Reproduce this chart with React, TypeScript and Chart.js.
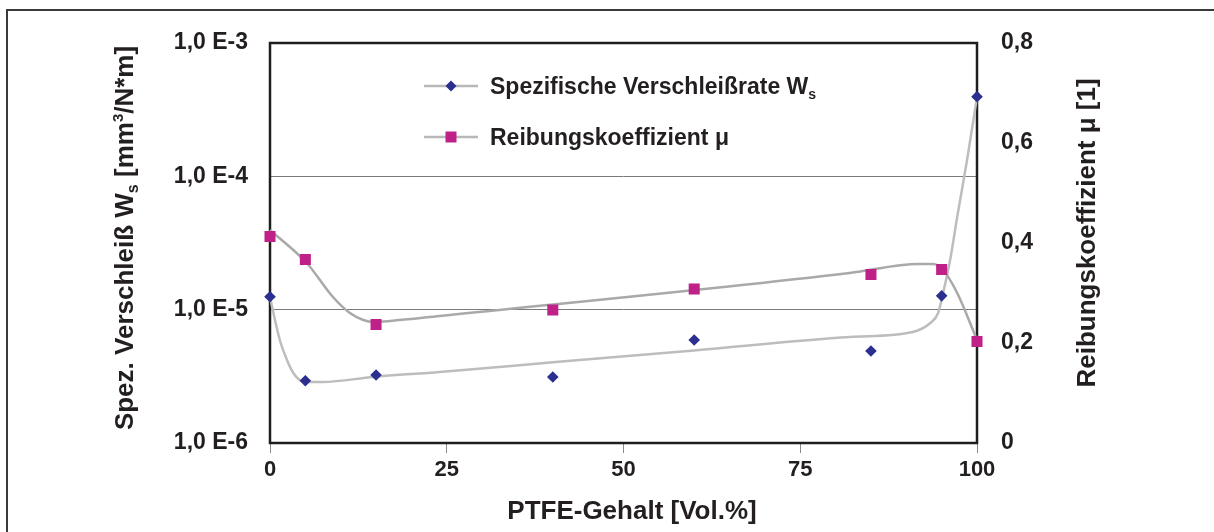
import React, { useEffect, useRef } from "react";
import { Chart, registerables } from "chart.js";

Chart.register(...registerables);

// ---- data ----
const ptfeContent = [0, 5, 15, 40, 60, 85, 95, 100];
const wearRate = [1.25e-5, 2.93e-6, 3.24e-6, 3.13e-6, 5.92e-6, 4.9e-6, 1.27e-5, 3.96e-4];
const frictionCoeff = [0.413, 0.367, 0.237, 0.266, 0.308, 0.337, 0.347, 0.203];

const wearTrendX = [0, 0.4, 1.4, 2.4, 3.3, 4.2, 5.2, 7.5, 14.6, 24, 40, 60, 82, 90.9, 93.4, 94.5, 95.2, 96.2, 97.2, 98.6, 100];
const wearTrendY = [1.25e-5, 9.9e-6, 5.9e-6, 4.2e-6, 3.35e-6, 2.97e-6, 2.87e-6, 2.87e-6, 3.13e-6, 3.41e-6, 4.03e-6, 4.95e-6, 6.24e-6, 6.8e-6, 7.94e-6, 9.44e-6, 1.33e-5, 2.36e-5, 4.95e-5, 1.33e-4, 3.94e-4];

const frictionTrendX = [0, 5.2, 8.9, 11.3, 13.2, 14.6, 17, 24, 82, 91.7, 93.8, 95.2, 97.2, 100];
const frictionTrendY = [0.426, 0.36, 0.292, 0.26, 0.246, 0.242, 0.244, 0.254, 0.34, 0.358, 0.358, 0.346, 0.3, 0.206];

const xTicks = [0, 25, 50, 75, 100];
const leftTickValues = [1e-6, 1e-5, 1e-4, 1e-3];
const leftTickLabels = ["1,0 E-6", "1,0 E-5", "1,0 E-4", "1,0 E-3"];
const rightTickValues = [0, 0.2, 0.4, 0.6, 0.8];
const rightTickLabels = ["0", "0,2", "0,4", "0,6", "0,8"];

const seriesWearLabel = "Spezifische Verschleißrate W";
const seriesFrictionLabel = "Reibungskoeffizient μ";
const xTitle = "PTFE-Gehalt [Vol.%]";
const rightTitle = "Reibungskoeffizient μ [1]";

// ---- styles ----
const FONT = "'Liberation Sans', Arial, Helvetica, sans-serif";
const TEXT = "#231f20";
const BLUE = "#2b2f8f";
const MAGENTA = "#bf2189";

type Part = { t: string; size: number; dy?: number };

function drawRich(ctx: CanvasRenderingContext2D, parts: Part[], x: number, y: number, align: "center" | "left") {
  let total = 0;
  const widths = parts.map((p) => {
    ctx.font = `bold ${p.size}px ${FONT}`;
    const w = ctx.measureText(p.t).width;
    total += w;
    return w;
  });
  let cx = align === "center" ? x - total / 2 : x;
  ctx.textAlign = "left";
  ctx.textBaseline = "alphabetic";
  parts.forEach((p, i) => {
    ctx.font = `bold ${p.size}px ${FONT}`;
    ctx.fillText(p.t, cx, y + (p.dy || 0));
    cx += widths[i];
  });
}

const decorPlugin = {
  id: "decor",
  beforeDraw(chart: any) {
    const ctx = chart.ctx as CanvasRenderingContext2D;
    ctx.save();
    ctx.fillStyle = "#ffffff";
    ctx.fillRect(0, 0, chart.width, chart.height);
    ctx.strokeStyle = "#3a3a3a";
    ctx.lineWidth = 2;
    ctx.beginPath();
    ctx.moveTo(7, chart.height + 10);
    ctx.lineTo(7, 10);
    ctx.lineTo(chart.width + 10, 10);
    ctx.stroke();
    ctx.restore();
  },
  beforeDatasetsDraw(chart: any) {
    const ctx = chart.ctx as CanvasRenderingContext2D;
    const a = chart.chartArea;
    ctx.save();
    ctx.strokeStyle = "#1e1e1e";
    ctx.lineWidth = 2.5;
    ctx.strokeRect(a.left, a.top, a.right - a.left, a.bottom - a.top);
    ctx.restore();
  },
  afterDatasetsDraw(chart: any) {
    const ctx = chart.ctx as CanvasRenderingContext2D;
    ctx.save();
    // legend
    const rows = [
      { y: 86, marker: "diamond", parts: [{ t: seriesWearLabel, size: 23 }, { t: "s", size: 14, dy: 5 }] },
      { y: 137, marker: "square", parts: [{ t: seriesFrictionLabel, size: 23 }] },
    ];
    rows.forEach((r) => {
      ctx.strokeStyle = "#b8b8b8";
      ctx.lineWidth = 2.5;
      ctx.beginPath();
      ctx.moveTo(424, r.y);
      ctx.lineTo(478, r.y);
      ctx.stroke();
      if (r.marker === "diamond") {
        ctx.fillStyle = BLUE;
        ctx.beginPath();
        ctx.moveTo(451, r.y - 5.5);
        ctx.lineTo(456.5, r.y);
        ctx.lineTo(451, r.y + 5.5);
        ctx.lineTo(445.5, r.y);
        ctx.closePath();
        ctx.fill();
      } else {
        ctx.fillStyle = MAGENTA;
        ctx.fillRect(445.5, r.y - 5.5, 11, 11);
      }
      ctx.fillStyle = TEXT;
      drawRich(ctx, r.parts, 490, r.y + 8, "left");
    });
    ctx.restore();
  },
  afterDraw(chart: any) {
    const ctx = chart.ctx as CanvasRenderingContext2D;
    ctx.save();
    ctx.fillStyle = TEXT;
    // left title
    ctx.save();
    ctx.translate(133, 238);
    ctx.rotate(-Math.PI / 2);
    drawRich(
      ctx,
      [
        { t: "Spez. Verschleiß W", size: 26 },
        { t: "s", size: 16, dy: 5 },
        { t: " [mm", size: 26 },
        { t: "3", size: 15, dy: -10 },
        { t: "/N*m]", size: 26 },
      ],
      0,
      0,
      "center"
    );
    ctx.restore();
    // right title
    ctx.save();
    ctx.translate(1095, 233);
    ctx.rotate(-Math.PI / 2);
    drawRich(ctx, [{ t: rightTitle, size: 26 }], 0, 0, "center");
    ctx.restore();
    // x title
    drawRich(ctx, [{ t: xTitle, size: 26 }], 632, 519, "center");
    ctx.restore();
  },
};

export default function App() {
  const canvasRef = useRef<HTMLCanvasElement | null>(null);

  useEffect(() => {
    if (!canvasRef.current) return;
    const chart = new Chart(canvasRef.current, {
      type: "line",
      data: {
        datasets: [
          {
            label: seriesWearLabel,
            data: ptfeContent.map((x, i) => ({ x, y: wearRate[i] })),
            yAxisID: "yLeft",
            showLine: false,
            pointStyle: "rectRot",
            pointRadius: 5.8,
            pointBackgroundColor: BLUE,
            pointBorderColor: BLUE,
            pointBorderWidth: 0,
            clip: false,
            order: 0,
          },
          {
            label: seriesFrictionLabel,
            data: ptfeContent.map((x, i) => ({ x, y: frictionCoeff[i] })),
            yAxisID: "yRight",
            showLine: false,
            pointStyle: "rect",
            pointRadius: 7.8,
            pointBackgroundColor: MAGENTA,
            pointBorderColor: MAGENTA,
            pointBorderWidth: 0,
            clip: false,
            order: 0,
          },
          {
            label: "Trend W",
            data: wearTrendX.map((x, i) => ({ x, y: wearTrendY[i] })),
            yAxisID: "yLeft",
            borderColor: "#bdbdbd",
            borderWidth: 2.5,
            pointRadius: 0,
            cubicInterpolationMode: "monotone",
            fill: false,
            clip: false,
            order: 2,
          },
          {
            label: "Trend mu",
            data: frictionTrendX.map((x, i) => ({ x, y: frictionTrendY[i] })),
            yAxisID: "yRight",
            borderColor: "#a9a9a9",
            borderWidth: 2.5,
            pointRadius: 0,
            cubicInterpolationMode: "monotone",
            fill: false,
            clip: false,
            order: 1,
          },
        ],
      },
      options: {
        animation: false,
        responsive: false,
        devicePixelRatio: 1,
        layout: { padding: { left: 0, right: 0, top: 43, bottom: 0 } },
        plugins: {
          legend: { display: false },
          tooltip: { enabled: false },
          title: { display: false },
        },
        scales: {
          x: {
            type: "linear",
            min: 0,
            max: 100,
            afterBuildTicks: (scale: any) => {
              scale.ticks = xTicks.map((v) => ({ value: v }));
            },
            afterFit: (scale: any) => {
              scale.height = 89;
            },
            grid: {
              display: true,
              drawOnChartArea: false,
              drawTicks: true,
              tickLength: 10,
              color: "#8a8a8a",
              lineWidth: 1,
            },
            border: { display: false },
            ticks: {
              color: TEXT,
              padding: 4,
              maxRotation: 0,
              font: { family: FONT, size: 22, weight: "bold" },
              callback: (v: any) => String(v),
            },
          },
          yLeft: {
            type: "logarithmic",
            position: "left",
            min: 1e-6,
            max: 1e-3,
            afterBuildTicks: (scale: any) => {
              scale.ticks = leftTickValues.map((v) => ({ value: v }));
            },
            afterFit: (scale: any) => {
              scale.width = 270;
            },
            grid: {
              display: true,
              drawTicks: false,
              color: (c: any) => (c.tick && (c.tick.value === 1e-5 || c.tick.value === 1e-4) ? "#7a7a7a" : "rgba(0,0,0,0)"),
              lineWidth: 1,
            },
            border: { display: false },
            ticks: {
              color: TEXT,
              padding: 22,
              font: { family: FONT, size: 23, weight: "bold" },
              callback: (_v: any, i: number) => leftTickLabels[i],
            },
          },
          yRight: {
            type: "linear",
            position: "right",
            min: 0,
            max: 0.8,
            afterBuildTicks: (scale: any) => {
              scale.ticks = rightTickValues.map((v) => ({ value: v }));
            },
            afterFit: (scale: any) => {
              scale.width = 1214 - 977;
            },
            grid: { display: false, drawTicks: false },
            border: { display: false },
            ticks: {
              color: TEXT,
              padding: 24,
              font: { family: FONT, size: 23, weight: "bold" },
              callback: (_v: any, i: number) => rightTickLabels[i],
            },
          },
        },
      },
      plugins: [decorPlugin],
    } as any);
    return () => chart.destroy();
  }, []);

  return (
    <div style={{ position: "fixed", left: 0, top: 0, width: 1214, height: 532, background: "#fff" }}>
      <canvas ref={canvasRef} width={1214} height={532} style={{ display: "block" }} />
    </div>
  );
}
